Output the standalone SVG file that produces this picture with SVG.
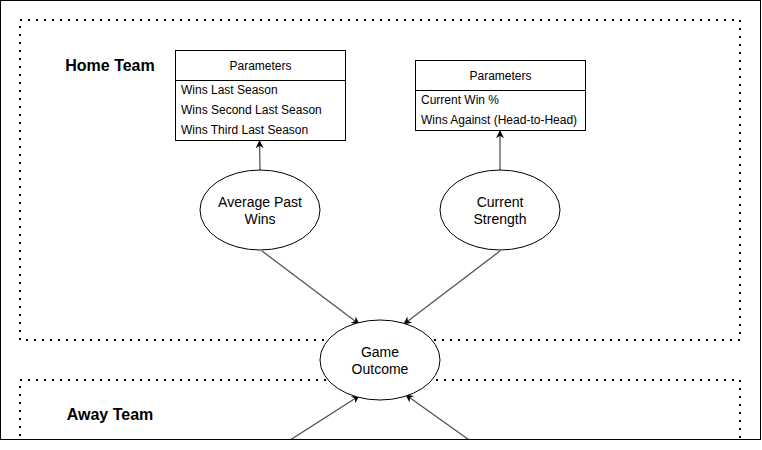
<svg xmlns="http://www.w3.org/2000/svg" width="762" height="450" viewBox="0 0 762 450">
<defs>
<marker id="arr" viewBox="0 0 10 10" refX="9" refY="5" markerWidth="8" markerHeight="8" markerUnits="userSpaceOnUse" orient="auto">
<path d="M0,0 L10,5 L0,10 L3,5 Z" fill="#000"/>
</marker>
<clipPath id="frame"><rect x="0" y="0" width="761" height="440"/></clipPath>
</defs>
<style>
text{font-family:"Liberation Sans",Arial,sans-serif;fill:#000}
.zone{fill:none;stroke:#000;stroke-width:2;stroke-dasharray:2 6}
.title{font-size:16px;font-weight:bold}
.box{fill:#fff;stroke:#000;stroke-width:1}
.hdr{font-size:12px;text-anchor:middle}
.row{font-size:12px}
.ell{fill:#fff;stroke:#000;stroke-width:1}
.lbl{font-size:14px;text-anchor:middle}
.edge{stroke:#555;stroke-width:1.3;fill:none;marker-end:url(#arr)}
</style>
<rect width="762" height="450" fill="#fff"/>
<g clip-path="url(#frame)">
<g id="home-team">
<rect class="zone" x="20" y="20" width="720" height="320"/>
<text class="title" x="110" y="71" text-anchor="middle">Home Team</text>
</g>
<g id="away-team">
<rect class="zone" x="20" y="380" width="720" height="120"/>
<text class="title" x="110" y="420" text-anchor="middle">Away Team</text>
</g>
<g id="connectors">
<line class="edge" x1="260" y1="170" x2="259.5" y2="141"/>
<line class="edge" x1="500" y1="170" x2="500" y2="131"/>
<line class="edge" x1="262" y1="251" x2="359" y2="324"/>
<line class="edge" x1="500" y1="251" x2="404" y2="324"/>
<line class="edge" x1="287" y1="442" x2="359" y2="396"/>
<line class="edge" x1="472" y1="442" x2="406" y2="395"/>
</g>
<g id="params-past">
<rect class="box" x="175.5" y="50.5" width="170" height="90"/>
<line x1="175.5" y1="80.5" x2="345.5" y2="80.5" stroke="#000"/>
<text class="hdr" x="260.5" y="69.5">Parameters</text>
<text class="row" x="181" y="94">Wins Last Season</text>
<text class="row" x="181" y="114">Wins Second Last Season</text>
<text class="row" x="181" y="134">Wins Third Last Season</text>
</g>
<g id="params-current">
<rect class="box" x="415.5" y="60.5" width="170" height="70"/>
<line x1="415.5" y1="90.5" x2="585.5" y2="90.5" stroke="#000"/>
<text class="hdr" x="500.5" y="79.5">Parameters</text>
<text class="row" x="421" y="104">Current Win %</text>
<text class="row" x="421" y="124">Wins Against (Head-to-Head)</text>
</g>
<g id="avg-past-wins">
<ellipse class="ell" cx="260" cy="210" rx="60" ry="40"/>
<text class="lbl" x="260" y="207">Average Past</text>
<text class="lbl" x="260" y="224">Wins</text>
</g>
<g id="current-strength">
<ellipse class="ell" cx="500" cy="210" rx="60" ry="40"/>
<text class="lbl" x="500" y="207">Current</text>
<text class="lbl" x="500" y="224">Strength</text>
</g>
<g id="game-outcome">
<ellipse class="ell" cx="380" cy="360" rx="60" ry="40"/>
<text class="lbl" x="380" y="357">Game</text>
<text class="lbl" x="380" y="374">Outcome</text>
</g>
</g>
<rect x="0.5" y="0.5" width="760" height="439" fill="none" stroke="#000" stroke-width="1"/>
</svg>
